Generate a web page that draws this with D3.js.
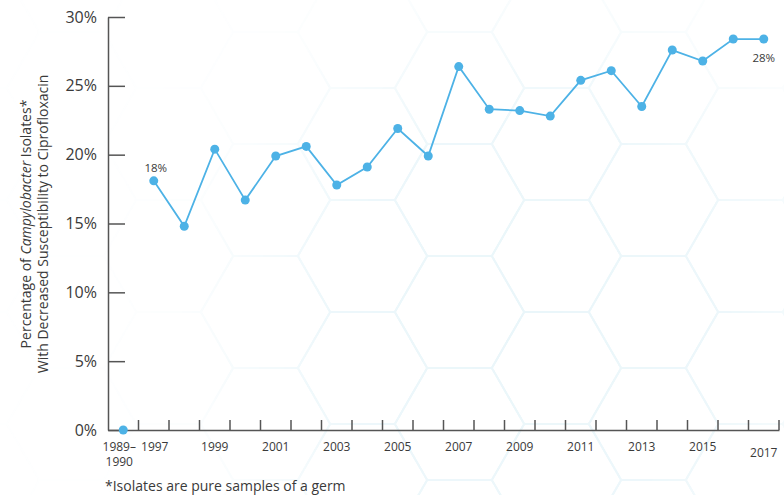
<!DOCTYPE html>
<html>
<head>
<meta charset="utf-8">
<script src="https://cdn.jsdelivr.net/npm/d3@7"></script>
<style>
  html, body { margin: 0; padding: 0; background: #fff; }
  svg { display: block; font-family: "Open Sans", sans-serif; }
</style>
</head>
<body>
<div id="chart"></div>
<script>
//Data
const years = ['1989–1990', '1997', '1998', '1999', '2000', '2001', '2002', '2003', '2004', '2005',
  '2006', '2007', '2008', '2009', '2010', '2011', '2012', '2013', '2014', '2015', '2016', '2017'];
const pct = [0, 18.1, 14.8, 20.4, 16.7, 19.9, 20.6, 17.8, 19.1, 21.9,
  19.9, 26.4, 23.3, 23.2, 22.8, 25.4, 26.1, 23.5, 27.6, 26.8, 28.4, 28.4];
const yTicks = [0, 5, 10, 15, 20, 25, 30];
const xLabels = ['1989–1990', '1997', '1999', '2001', '2003', '2005', '2007', '2009', '2011', '2013', '2015', '2017'];
const callouts = [{ year: '1997', text: '18%' }, { year: '2017', text: '28%' }];

const W = 784, H = 495;
const margin = { top: 17, right: 5, bottom: 65, left: 108 };
const lineColor = '#4db2e6';
const inkColor = '#3a3a3a';

const svg = d3.select('#chart').append('svg').attr('width', W).attr('height', H);

//Hexagon backdrop
const side = 112 / Math.sqrt(3);
const defs = svg.append('defs');
const rg = defs.append('radialGradient').attr('id', 'hex-fade')
  .attr('gradientUnits', 'userSpaceOnUse').attr('cx', 530).attr('cy', 320).attr('r', 440);
rg.append('stop').attr('offset', '0%').attr('stop-color', '#fff').attr('stop-opacity', 1);
rg.append('stop').attr('offset', '45%').attr('stop-color', '#fff').attr('stop-opacity', 0.85);
rg.append('stop').attr('offset', '80%').attr('stop-color', '#fff').attr('stop-opacity', 0.15);
rg.append('stop').attr('offset', '100%').attr('stop-color', '#fff').attr('stop-opacity', 0.05);
defs.append('mask').attr('id', 'hex-mask')
  .append('rect').attr('width', W).attr('height', H).attr('fill', 'url(#hex-fade)');

const hexCenters = [];
d3.range(-6, 4).forEach(k => {
  const cx = 556.5 + k * 1.5 * side;
  const y0 = (k % 2 === 0) ? 256 : 200;
  d3.range(-4, 4).forEach(m => hexCenters.push([cx, y0 + m * 112]));
});
const hexPath = ([cx, cy]) => {
  const pts = d3.range(6).map(i => {
    const a = Math.PI / 3 * i;
    return [cx + side * Math.cos(a), cy + side * Math.sin(a)];
  });
  return 'M' + pts.join('L') + 'Z';
};
svg.append('g').attr('mask', 'url(#hex-mask)')
  .selectAll('path').data(hexCenters).join('path')
  .attr('d', hexPath)
  .attr('fill', 'none')
  .attr('stroke', '#eaf6fa')
  .attr('stroke-width', 2);

//Scales
const x = d3.scaleBand().domain(years).range([margin.left, 779]).padding(0);
const y = d3.scaleLinear().domain([0, 30]).range([H - margin.bottom, margin.top]);
const baseY = y(0);

//Y axis
const yAxis = svg.append('g').attr('transform', `translate(${margin.left},0)`)
  .call(d3.axisLeft(y).tickValues(yTicks).tickFormat(d => d + '%')
    .tickSizeInner(-17).tickSizeOuter(0).tickPadding(11));
yAxis.select('.domain').attr('stroke', '#555').attr('stroke-width', 1.5);
yAxis.selectAll('.tick line').attr('stroke', '#555').attr('stroke-width', 1.5);
yAxis.selectAll('.tick text').attr('fill', inkColor).attr('font-size', 16).attr('font-family', '"Open Sans", sans-serif');

//X axis
const xAxis = svg.append('g').attr('transform', `translate(0,${baseY})`)
  .call(d3.axisBottom(x).tickValues(xLabels).tickSize(0).tickPadding(12).tickFormat(''));
xAxis.select('.domain').attr('stroke', '#555').attr('stroke-width', 1.5);
xAxis.selectAll('.tick').each(function (d) {
  const t = d3.select(this).select('text')
    .attr('fill', inkColor).attr('font-size', 12).attr('font-family', '"Open Sans", sans-serif');
  if (d === '1989–1990') {
    t.append('tspan').attr('x', -4).text('1989–');
    t.append('tspan').attr('x', -4).attr('dy', '1.25em').text('1990');
  } else {
    t.text(d);
    if (d === '1997') t.attr('x', 1);
    if (d === '2017') t.attr('transform', 'translate(0,6)');
  }
});
// boundary ticks (pointing up)
svg.append('g').selectAll('line').data(years).join('line')
  .attr('x1', d => x(d) + x.bandwidth()).attr('x2', d => x(d) + x.bandwidth())
  .attr('y1', baseY).attr('y2', baseY - 10)
  .attr('stroke', '#555').attr('stroke-width', 1.5);

//Line + dots
const series = years.map((yr, i) => ({ yr, v: pct[i] }));
const cx = d => x(d.yr) + x.bandwidth() / 2;
svg.append('path').datum(series.slice(1))
  .attr('d', d3.line().x(cx).y(d => y(d.v)))
  .attr('fill', 'none').attr('stroke', lineColor).attr('stroke-width', 1.8);
svg.append('g').selectAll('circle').data(series).join('circle')
  .attr('cx', cx).attr('cy', d => y(d.v)).attr('r', 4.5).attr('fill', lineColor);

//Callouts
const byYear = new Map(series.map(s => [s.yr, s]));
callouts.forEach(c => {
  const s = byYear.get(c.year);
  const above = c.year === '1997';
  svg.append('text')
    .attr('x', cx(s) + (above ? 2 : 0))
    .attr('y', y(s.v) + (above ? -9 : 23))
    .attr('text-anchor', 'middle')
    .attr('fill', inkColor).attr('font-size', 11.5)
    .text(c.text);
});

//Axis title
const title = svg.append('text')
  .attr('transform', `translate(31,224) rotate(-90)`)
  .attr('text-anchor', 'middle').attr('fill', inkColor).attr('font-size', 14);
const l1 = title.append('tspan').attr('x', 0);
l1.append('tspan').text('Percentage of ');
l1.append('tspan').attr('font-style', 'italic').text('Campylobacter');
l1.append('tspan').text(' Isolates*');
title.append('tspan').attr('x', 0).attr('dy', 17).text('With Decreased Susceptibility to Ciprofloxacin');

//Footnote
svg.append('text').attr('x', 105).attr('y', 491)
  .attr('fill', inkColor).attr('font-size', 14)
  .text('*Isolates are pure samples of a germ');
</script>
</body>
</html>
